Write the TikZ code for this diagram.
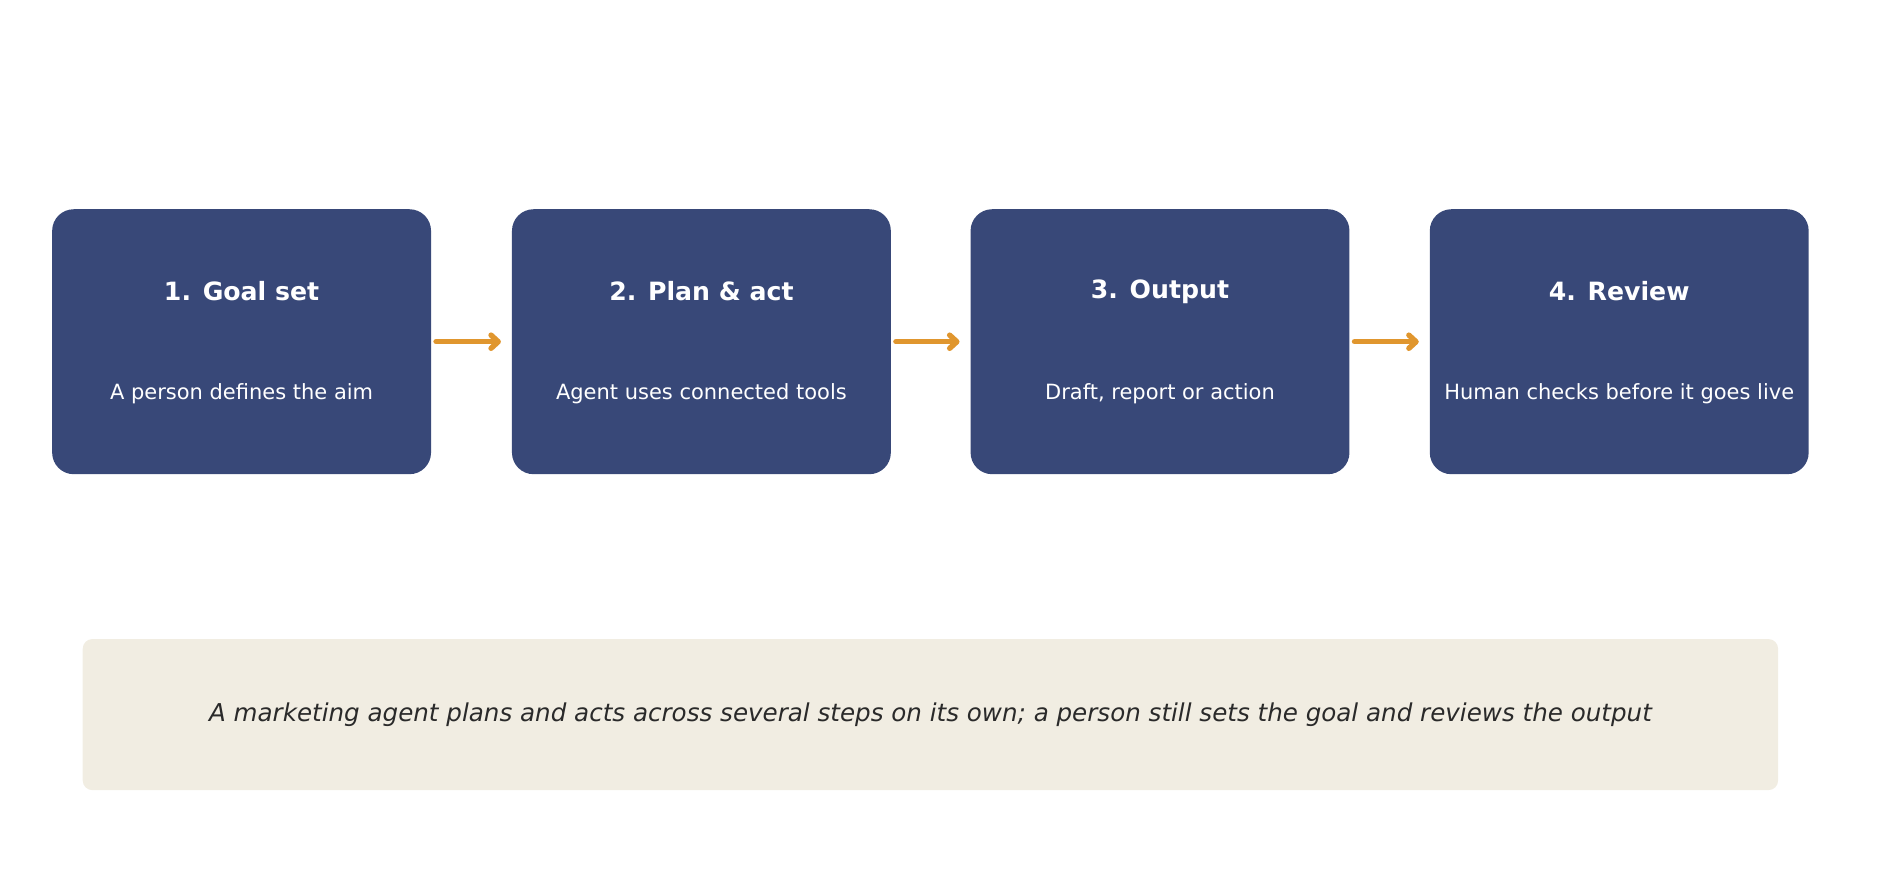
\documentclass[tikz,border=0pt]{standalone}
\usepackage{fontspec}
\setmainfont{DejaVu Sans}
\usetikzlibrary{arrows.meta}
\definecolor{boxblue}{HTML}{384878}
\definecolor{arrorange}{HTML}{E0962E}
\definecolor{notebg}{HTML}{F1EDE2}
\definecolor{notetxt}{HTML}{2A2A2A}
\begin{document}
\begin{tikzpicture}[x=1pt,y=-1pt,
  stepbox/.style={fill=boxblue,rounded corners=18pt,minimum width=316pt,minimum height=221pt,inner sep=0pt},
  ttl/.style={text=white,font=\fontsize{21}{25}\selectfont\bfseries},
  sub/.style={text=white,font=\fontsize{17.5}{21}\selectfont},
  arr/.style={draw=arrorange,line width=4.5pt,line cap=round,-{Straight Barb[length=6pt,width=11pt,line cap=round,line join=round]}}]
\useasboundingbox (0,0) rectangle (1568,734);
\foreach \i/\x/\t/\s in {1/201.5/1. Goal set/A person defines the aim,2/585/2. Plan \& act/Agent uses connected tools,3/967.5/3. Output/{Draft, report or action},4/1350.5/4. Review/Human checks before it goes live}{
  \node[stepbox] (b\i) at (\x,285) {};
  \node[ttl] (t\i) at (\x,243) {\t};
  \node[sub] (s\i) at (\x,328) {\s};
}
\foreach \a/\b in {1/2,2/3,3/4}{
  \draw[arr] ([xshift=4pt]b\a.east) -- ([xshift=-9pt]b\b.west);
}
\node[fill=notebg,rounded corners=8pt,minimum width=1414pt,minimum height=126pt,inner sep=0pt] (note) at (776,596) {};
\node[text=notetxt,font=\fontsize{20.5}{24}\selectfont\itshape] (nt) at (776,596) {A marketing agent plans and acts across several steps on its own; a person still sets the goal and reviews the output};
\end{tikzpicture}
\end{document}
